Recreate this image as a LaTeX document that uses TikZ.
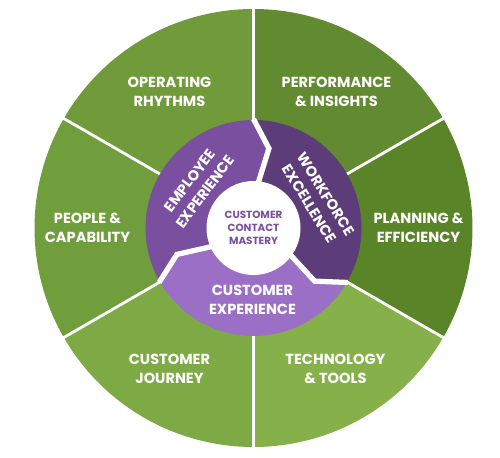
\documentclass[tikz,border=0pt]{standalone}
\usepackage{fontspec}
\setmainfont{Poppins}
\definecolor{gOper}{HTML}{719A3A}
\definecolor{gPerf}{HTML}{628A30}
\definecolor{gPlan}{HTML}{5A8428}
\definecolor{gTech}{HTML}{86B04A}
\definecolor{gJour}{HTML}{7DAA44}
\definecolor{gPeop}{HTML}{719E3C}
\definecolor{pEmp}{HTML}{7B4F9F}
\definecolor{pWork}{HTML}{5C3D7A}
\definecolor{pCust}{HTML}{9B6FC6}
\tikzset{
  outerlbl/.style={text=white, align=center, font=\bfseries\fontsize{8.3}{10.8}\selectfont},
  innerlbl/.style={text=white, align=center, font=\bfseries\fontsize{8.3}{10.8}\selectfont},
  corelbl/.style={text=pEmp, align=center, font=\bfseries\fontsize{5.9}{7.4}\selectfont},
  divider/.style={white, line width=1.6pt},
  gap/.style={white, line width=3pt, line join=miter},
}
\begin{document}
\begin{tikzpicture}[x=0.02cm, y=0.02cm]
\useasboundingbox (-253.5,-229) rectangle (246.5,228);
% green sectors
\fill[gPerf] (0,0) -- (90:219) arc[start angle=90, end angle=30, radius=219] -- cycle;
\fill[gPlan] (0,0) -- (30:219) arc[start angle=30, end angle=-30, radius=219] -- cycle;
\fill[gTech] (0,0) -- (-30:219) arc[start angle=-30, end angle=-90, radius=219] -- cycle;
\fill[gJour] (0,0) -- (-90:219) arc[start angle=-90, end angle=-150, radius=219] -- cycle;
\fill[gPeop] (0,0) -- (210:219) arc[start angle=210, end angle=150, radius=219] -- cycle;
\fill[gOper] (0,0) -- (150:219) arc[start angle=150, end angle=90, radius=219] -- cycle;
\foreach \a in {90,30,-30,-90,-150,150} \draw[divider] (0,0) -- (\a:220);
% purple wedges
\fill[pEmp] (0,0) -- (90:40) -- (79:81) -- (90:108) arc[start angle=90, end angle=210, radius=108] -- (199:81) -- (210:40) -- cycle;
\fill[pWork] (0,0) -- (-30:40) -- (-41:81) -- (-30:108) arc[start angle=-30, end angle=90, radius=108] -- (79:81) -- (90:40) -- cycle;
\fill[pCust] (0,0) -- (210:40) -- (199:81) -- (210:108) arc[start angle=210, end angle=330, radius=108] -- (-41:81) -- (-30:40) -- cycle;
\foreach \a in {90,-30,210} \draw[gap] (\a:30) -- (\a-11:81) -- (\a:109);
% core
\fill[white] (0,0) circle[radius=47];
% labels
\node[outerlbl] (oper) at (-84,136.5) {OPERATING\\RHYTHMS};
\node[outerlbl] (perf) at (83,136.5) {PERFORMANCE\\\&~INSIGHTS};
\node[outerlbl] (peop) at (-166,0) {PEOPLE \&\\CAPABILITY};
\node[outerlbl] (plan) at (165,0) {PLANNING \&\\EFFICIENCY};
\node[outerlbl] (jour) at (-84,-140.5) {CUSTOMER\\JOURNEY};
\node[outerlbl] (tech) at (82,-140.5) {TECHNOLOGY\\\&~TOOLS};
\node[innerlbl] (cust) at (-1,-72) {CUSTOMER\\EXPERIENCE};
\node[innerlbl, rotate=53] (emp) at (-56,42) {EMPLOYEE\\EXPERIENCE};
\node[innerlbl, rotate=-58] (work) at (64,29) {WORKFORCE\\EXCELLENCE};
\node[corelbl] (core) at (0,0) {CUSTOMER\\CONTACT\\MASTERY};
\end{tikzpicture}
\end{document}
